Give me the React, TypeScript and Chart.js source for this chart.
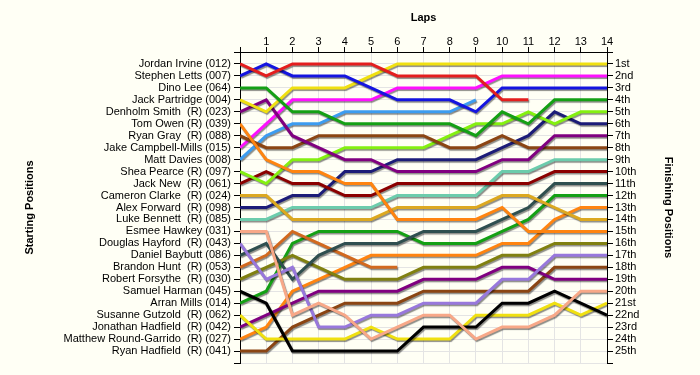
import React, { useEffect, useRef } from "react";
import { Chart, registerables } from "chart.js";

Chart.register(...registerables);

// ---------- data ----------
const laps = [0, 1, 2, 3, 4, 5, 6, 7, 8, 9, 10, 11, 12, 13, 14];

const drivers = [
  "Jordan Irvine (012)",
  "Stephen Letts (007)",
  "Dino Lee (064)",
  "Jack Partridge (004)",
  "Denholm Smith  (R) (023)",
  "Tom Owen (R) (039)",
  "Ryan Gray  (R) (088)",
  "Jake Campbell-Mills (015)",
  "Matt Davies (008)",
  "Shea Pearce (R) (097)",
  "Jack New  (R) (061)",
  "Cameron Clarke  (R) (024)",
  "Alex Forward  (R) (098)",
  "Luke Bennett  (R) (085)",
  "Esmee Hawkey (031)",
  "Douglas Hayford  (R) (043)",
  "Daniel Baybutt (086)",
  "Brandon Hunt  (R) (053)",
  "Robert Forsythe  (R) (030)",
  "Samuel Harman (045)",
  "Arran Mills (014)",
  "Susanne Gutzold  (R) (062)",
  "Jonathan Hadfield  (R) (042)",
  "Matthew Round-Garrido  (R) (027)",
  "Ryan Hadfield  (R) (041)",
];

const finishLabels = [
  "1st", "2nd", "3rd", "4th", "5th", "6th", "7th", "8th", "9th", "10th",
  "11th", "12th", "13th", "14th", "15th", "16th", "17th", "18th", "19th", "20th",
  "21st", "22nd", "23rd", "24th", "25th",
];

// position of each driver at the end of each lap (lap 0 = grid), null = retired
const jordanIrvine = [1, 2, 1, 1, 1, 1, 2, 2, 2, 2, 4, 4, null, null, null];
const stephenLetts = [2, 1, 2, 2, 2, 3, 4, 4, 4, 5, 3, 3, 3, 3, 3];
const dinoLee = [3, 3, 5, 5, 6, 6, 6, 6, 6, 7, 5, 6, 4, 4, 4];
const jackPartridge = [4, 5, 3, 3, 3, 2, 1, 1, 1, 1, 1, 1, 1, 1, 1];
const denholmSmith = [5, 4, 7, 8, 9, 9, 10, 10, 10, 10, 9, 9, 7, 7, 7];
const tomOwen = [6, 9, 10, 10, 11, 11, 14, 14, 14, 14, 13, 15, 15, 15, 15];
const ryanGray = [7, 8, 8, 7, 7, 7, 7, 7, 8, 8, 7, 8, 8, 8, 8];
const jakeCampbellMills = [8, 6, 4, 4, 4, 4, 3, 3, 3, 3, 2, 2, 2, 2, 2];
const mattDavies = [9, 7, 6, 6, 5, 5, 5, 5, 5, 4, null, null, null, null, null];
const sheaPearce = [10, 11, 9, 9, 8, 8, 8, 8, 7, 6, 6, 5, 6, 5, 5];
const jackNew = [11, 10, 11, 11, 12, 12, 11, 11, 11, 11, 11, 11, 10, 10, 10];
const cameronClarke = [12, 12, 14, 14, 14, 14, 13, 13, 13, 13, 12, 12, 13, 14, 14];
const alexForward = [13, 13, 12, 12, 10, 10, 9, 9, 9, 9, 8, 7, 5, 6, 6];
const lukeBennett = [14, 14, 13, 13, 13, 13, 12, 12, 12, 12, 10, 10, 9, 9, 9];
const esmeeHawkey = [15, 15, 22, 21, 22, 24, 23, 22, 22, 24, 23, 23, 22, 20, 20];
const douglasHayford = [16, 19, 18, 23, 23, 22, 22, 21, 21, 21, 19, 19, 17, 17, 17];
const danielBaybutt = [17, 16, 19, 17, 16, 16, 16, 15, 15, 15, 14, 13, 11, 11, 11];
const brandonHunt = [18, 17, 15, 16, 17, 18, 18, null, null, null, null, null, null, null, null];
const robertForsythe = [19, 18, 17, 18, 19, 19, 19, 18, 18, 18, 17, 17, 16, 16, 16];
const samuelHarman = [20, 21, 25, 25, 25, 25, 25, 23, 23, 23, 21, 21, 20, 21, 22];
const arranMills = [21, 20, 16, 15, 15, 15, 15, 16, 16, 16, 15, 14, 12, 12, 12];
const susanneGutzold = [22, 24, 24, 24, 24, 23, 24, 24, 24, 22, 22, 22, 21, 22, 21];
const jonathanHadfield = [23, 22, 21, 20, 20, 20, 20, 19, 19, 19, 18, 18, 19, 19, 19];
const matthewRoundGarrido = [24, 23, 20, 19, 18, 17, 17, 17, 17, 17, 16, 16, 14, 13, 13];
const ryanHadfield = [25, 25, 23, 22, 21, 21, 21, 20, 20, 20, 20, 20, 18, 18, 18];

const driverPositions = [
  jordanIrvine, stephenLetts, dinoLee, jackPartridge, denholmSmith, tomOwen,
  ryanGray, jakeCampbellMills, mattDavies, sheaPearce, jackNew, cameronClarke,
  alexForward, lukeBennett, esmeeHawkey, douglasHayford, danielBaybutt,
  brandonHunt, robertForsythe, samuelHarman, arranMills, susanneGutzold,
  jonathanHadfield, matthewRoundGarrido, ryanHadfield,
];

// ---------- styles ----------
const lineColors = [
  "#E41E1E", "#1414E0", "#14A014", "#F0E010", "#800080", "#FF8410",
  "#8B4513", "#FF10FF", "#3C9CF0", "#84F010", "#8B0000", "#DCA820",
  "#1C1C78", "#6CCCAC", "#F8A888", "#9878DC", "#2F4F4F", "#D2691E",
  "#808010", "#000000", "#14A014", "#F0E010", "#800080", "#FF8410",
  "#8B4513",
];

const BG = "#FFFFF5";
const FONT = "'Liberation Sans', Arial, sans-serif";

const shadowPlugin = {
  id: "lineShadow",
  beforeDatasetsDraw(chart: any) {
    const ctx = chart.ctx;
    ctx.save();
    ctx.shadowColor = "rgba(0,0,0,0.45)";
    ctx.shadowBlur = 1;
    ctx.shadowOffsetX = 1;
    ctx.shadowOffsetY = 1.5;
  },
  afterDatasetsDraw(chart: any) {
    chart.ctx.restore();
  },
};

export default function App() {
  const canvasRef = useRef<HTMLCanvasElement | null>(null);

  useEffect(() => {
    document.body.style.margin = "0";
    const canvas = canvasRef.current;
    if (!canvas) return;

    const datasets = driverPositions.map((pos, i) => ({
      label: drivers[i],
      data: laps.map((lap, j) => ({ x: lap, y: pos[j] })),
      borderColor: lineColors[i],
      backgroundColor: lineColors[i],
      borderWidth: 3,
      pointRadius: 0,
      tension: 0,
      fill: false,
      spanGaps: false,
      yAxisID: "y",
    }));

    const tickFont = { family: FONT, size: 11, lineHeight: 1 };
    const titleFont = { family: FONT, size: 11, weight: "bold" as const };
    const gridColor = "#E4E4E4";

    const chart = new Chart(canvas, {
      type: "line",
      data: { datasets },
      plugins: [shadowPlugin],
      options: {
        responsive: false,
        animation: false,
        devicePixelRatio: 1,
        layout: { padding: { top: 0, bottom: 12, left: 0, right: 0 } },
        plugins: {
          legend: { display: false },
          tooltip: { enabled: false },
        },
        scales: {
          x: {
            type: "linear",
            position: "top",
            min: 0,
            max: 14,
            afterFit: (s: any) => {
              s.height = 52;
            },
            ticks: {
              stepSize: 1,
              autoSkip: false,
              maxRotation: 0,
              color: "#000",
              font: tickFont,
              padding: 0,
              callback: (v: any) => (v === 0 ? "" : String(v)),
            },
            grid: {
              color: gridColor,
              tickColor: "#000",
              tickLength: 5,
              lineWidth: 1,
            },
            border: { color: "#000", width: 1 },
            title: {
              display: true,
              text: "Laps",
              color: "#000",
              font: titleFont,
              padding: { top: 11.5, bottom: 0 },
            },
          },
          y: {
            type: "linear",
            position: "left",
            reverse: true,
            min: 0,
            max: 26,
            afterFit: (s: any) => {
              s.width = 240;
            },
            ticks: {
              stepSize: 1,
              autoSkip: false,
              color: "#000",
              font: tickFont,
              padding: 3,
              callback: (v: any) => drivers[v - 1] ?? "",
            },
            grid: {
              color: gridColor,
              tickColor: "#000",
              tickLength: 6,
              lineWidth: 1,
            },
            border: { color: "#000", width: 1 },
            title: {
              display: true,
              text: "Starting Positions",
              color: "#000",
              font: titleFont,
              padding: { top: 23.5, bottom: 0 },
            },
          },
          y2: {
            type: "linear",
            position: "right",
            reverse: true,
            min: 0,
            max: 26,
            afterFit: (s: any) => {
              s.width = 93;
            },
            ticks: {
              stepSize: 1,
              autoSkip: false,
              color: "#000",
              font: tickFont,
              padding: 2,
              callback: (v: any) => finishLabels[v - 1] ?? "",
            },
            grid: {
              drawOnChartArea: false,
              color: gridColor,
              tickColor: "#000",
              tickLength: 6,
            },
            border: { color: "#000", width: 1 },
            title: {
              display: true,
              text: "Finishing Positions",
              color: "#000",
              font: titleFont,
              padding: { top: 25.5, bottom: 0 },
            },
          },
        },
      },
    } as any);

    return () => {
      chart.destroy();
    };
  }, []);

  return (
    <div
      style={{
        position: "fixed",
        left: 0,
        top: 0,
        width: 700,
        height: 375,
        background: BG,
      }}
    >
      <canvas ref={canvasRef} width={700} height={375} style={{ display: "block", width: 700, height: 375 }} />
    </div>
  );
}
